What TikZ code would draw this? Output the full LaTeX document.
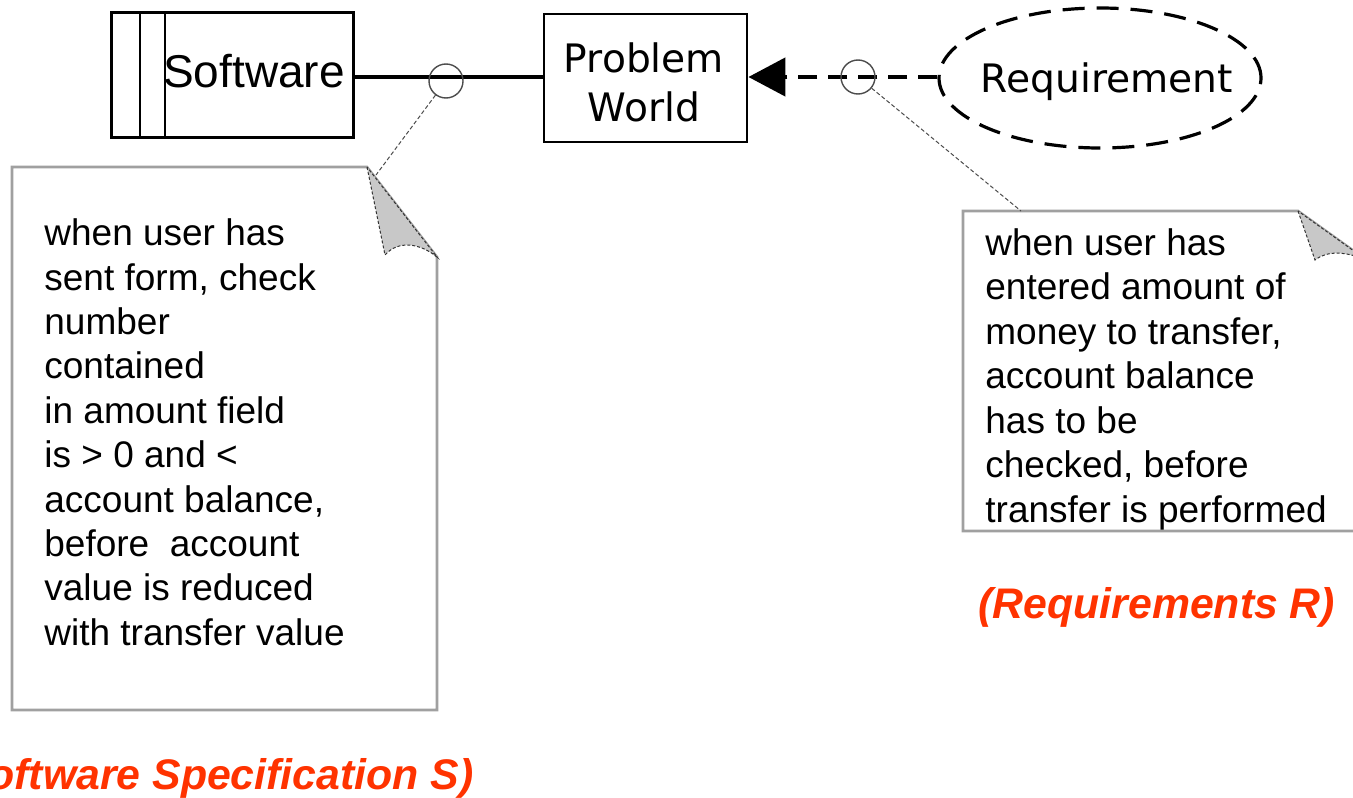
\documentclass[tikz,border=0pt]{standalone}
\usepackage{fontspec}
\setmainfont{Liberation Sans}
\newfontfamily\dejavu{DejaVu Sans}
\usetikzlibrary{arrows.meta,shapes.geometric}
\definecolor{redlbl}{HTML}{FF3300}
\definecolor{notegray}{HTML}{A0A0A0}
\definecolor{curlgray}{HTML}{C8C8C8}
\tikzset{
  boxstyle/.style={draw=black, line width=1.4pt, fill=white, inner sep=0pt},
  pointc/.style={circle, draw=black!70, line width=0.7pt, minimum size=17pt, inner sep=0pt},
  notebody/.style={draw=notegray, line width=1.3pt, fill=white},
  notecurl/.style={draw=black!80, dash pattern=on 1.5pt off 1pt, line width=0.5pt, fill=curlgray},
  notetext/.style={anchor=north west, align=left, inner sep=0pt, font=\fontsize{18.5}{22.2}\selectfont},
  notelink/.style={draw=black!70, dash pattern=on 2pt off 1.2pt, line width=0.5pt},
  redlabel/.style={text=redlbl, font=\fontsize{21.4}{25}\selectfont\bfseries\itshape, inner sep=0pt},
  reqlink/.style={line width=2.3pt, dash pattern=on 9.5pt off 5.5pt},
  boxtext/.style={inner sep=0pt, font=\dejavu\fontsize{19.6}{24.5}\selectfont},
}
\begin{document}
\begin{tikzpicture}[x=0.5pt,y=-0.5pt]
\useasboundingbox (0,0) rectangle (1353,797);
\clip (0,0) rectangle (1353,797);
\fill[white] (0,0) rectangle (1353,797);

% Software box
\node[boxstyle, minimum width=121pt, minimum height=62.5pt] (sw) at (232.5,75) {};
\draw[line width=1.4pt] (140,12.5) -- (140,137.5);
\draw[line width=1.4pt] (165,12.5) -- (165,137.5);
\node[anchor=base, inner sep=0pt, font=\fontsize{23}{27}\selectfont] (swtext) at (254,88) {Software};

% Problem World box
\node[boxstyle, minimum width=101.5pt, minimum height=64pt] (pw) at (645.5,78) {};
\node[boxtext, anchor=north, align=center] (pwtext) at (644,42.6) {Problem\\World};

% Requirement ellipse
\node[ellipse, draw=black, line width=1.6pt, dash pattern=on 11pt off 6pt,
      minimum width=161pt, minimum height=70pt, inner sep=0pt] (req) at (1100,78) {};
\node[boxtext, anchor=base] (reqtext) at (1107,92) {Requirement};

% Connectors
\draw[line width=2pt] (sw.east |- 0,77) -- (pw.west |- 0,77);
\draw[reqlink, -{Triangle[length=18.5pt,width=19pt]}] (req.west |- 0,77) -- (pw.east |- 0,77);

% Points
\node[pointc] (c1) at (446,81) {};
\node[pointc] (c2) at (858,77) {};

% Left note
\coordinate (n1a) at (367,167);
\coordinate (n1b) at (437,257);
\coordinate (n1tip) at (385,255);
\draw[notebody] (12,167) -- (n1a) -- (n1b) -- (437,710) -- (12,710) -- cycle;
\draw[notecurl] (n1a) -- (n1tip) .. controls (398,240) and (420,243) .. (n1b) -- cycle;
\coordinate (n1link) at (376,175);
\draw[notelink] (c1) -- (n1link);
\node[notetext] (t1) at (44,218.5) {when user has\\sent form, check\\number\\contained\\in amount field\\is > 0 and <\\account balance,\\before\ \ account\\value is reduced\\with transfer value};

% Right note
\coordinate (n2a) at (1298,211);
\coordinate (n2b) at (1365,259);
\coordinate (n2tip) at (1315,260);
\draw[notebody] (963,211) -- (n2a) -- (n2b) -- (1365,531) -- (963,531) -- cycle;
\draw[notecurl] (n2a) -- (n2tip) .. controls (1328,250) and (1345,252) .. (n2b) -- cycle;
\coordinate (n2link) at (1021,211);
\draw[notelink] (c2) -- (n2link);
\node[notetext, font=\fontsize{18.5}{22.25}\selectfont] (t2) at (985,228) {when user has\\entered amount of\\money to transfer,\\account balance\\has to be\\checked, before\\transfer is performed};

% Red labels
\node[redlabel, anchor=base west] (lblR) at (978,618) {(Requirements R)};
\node[redlabel, anchor=base east] (lblS) at (474,789) {(Software Specification S)};
\end{tikzpicture}
\end{document}
